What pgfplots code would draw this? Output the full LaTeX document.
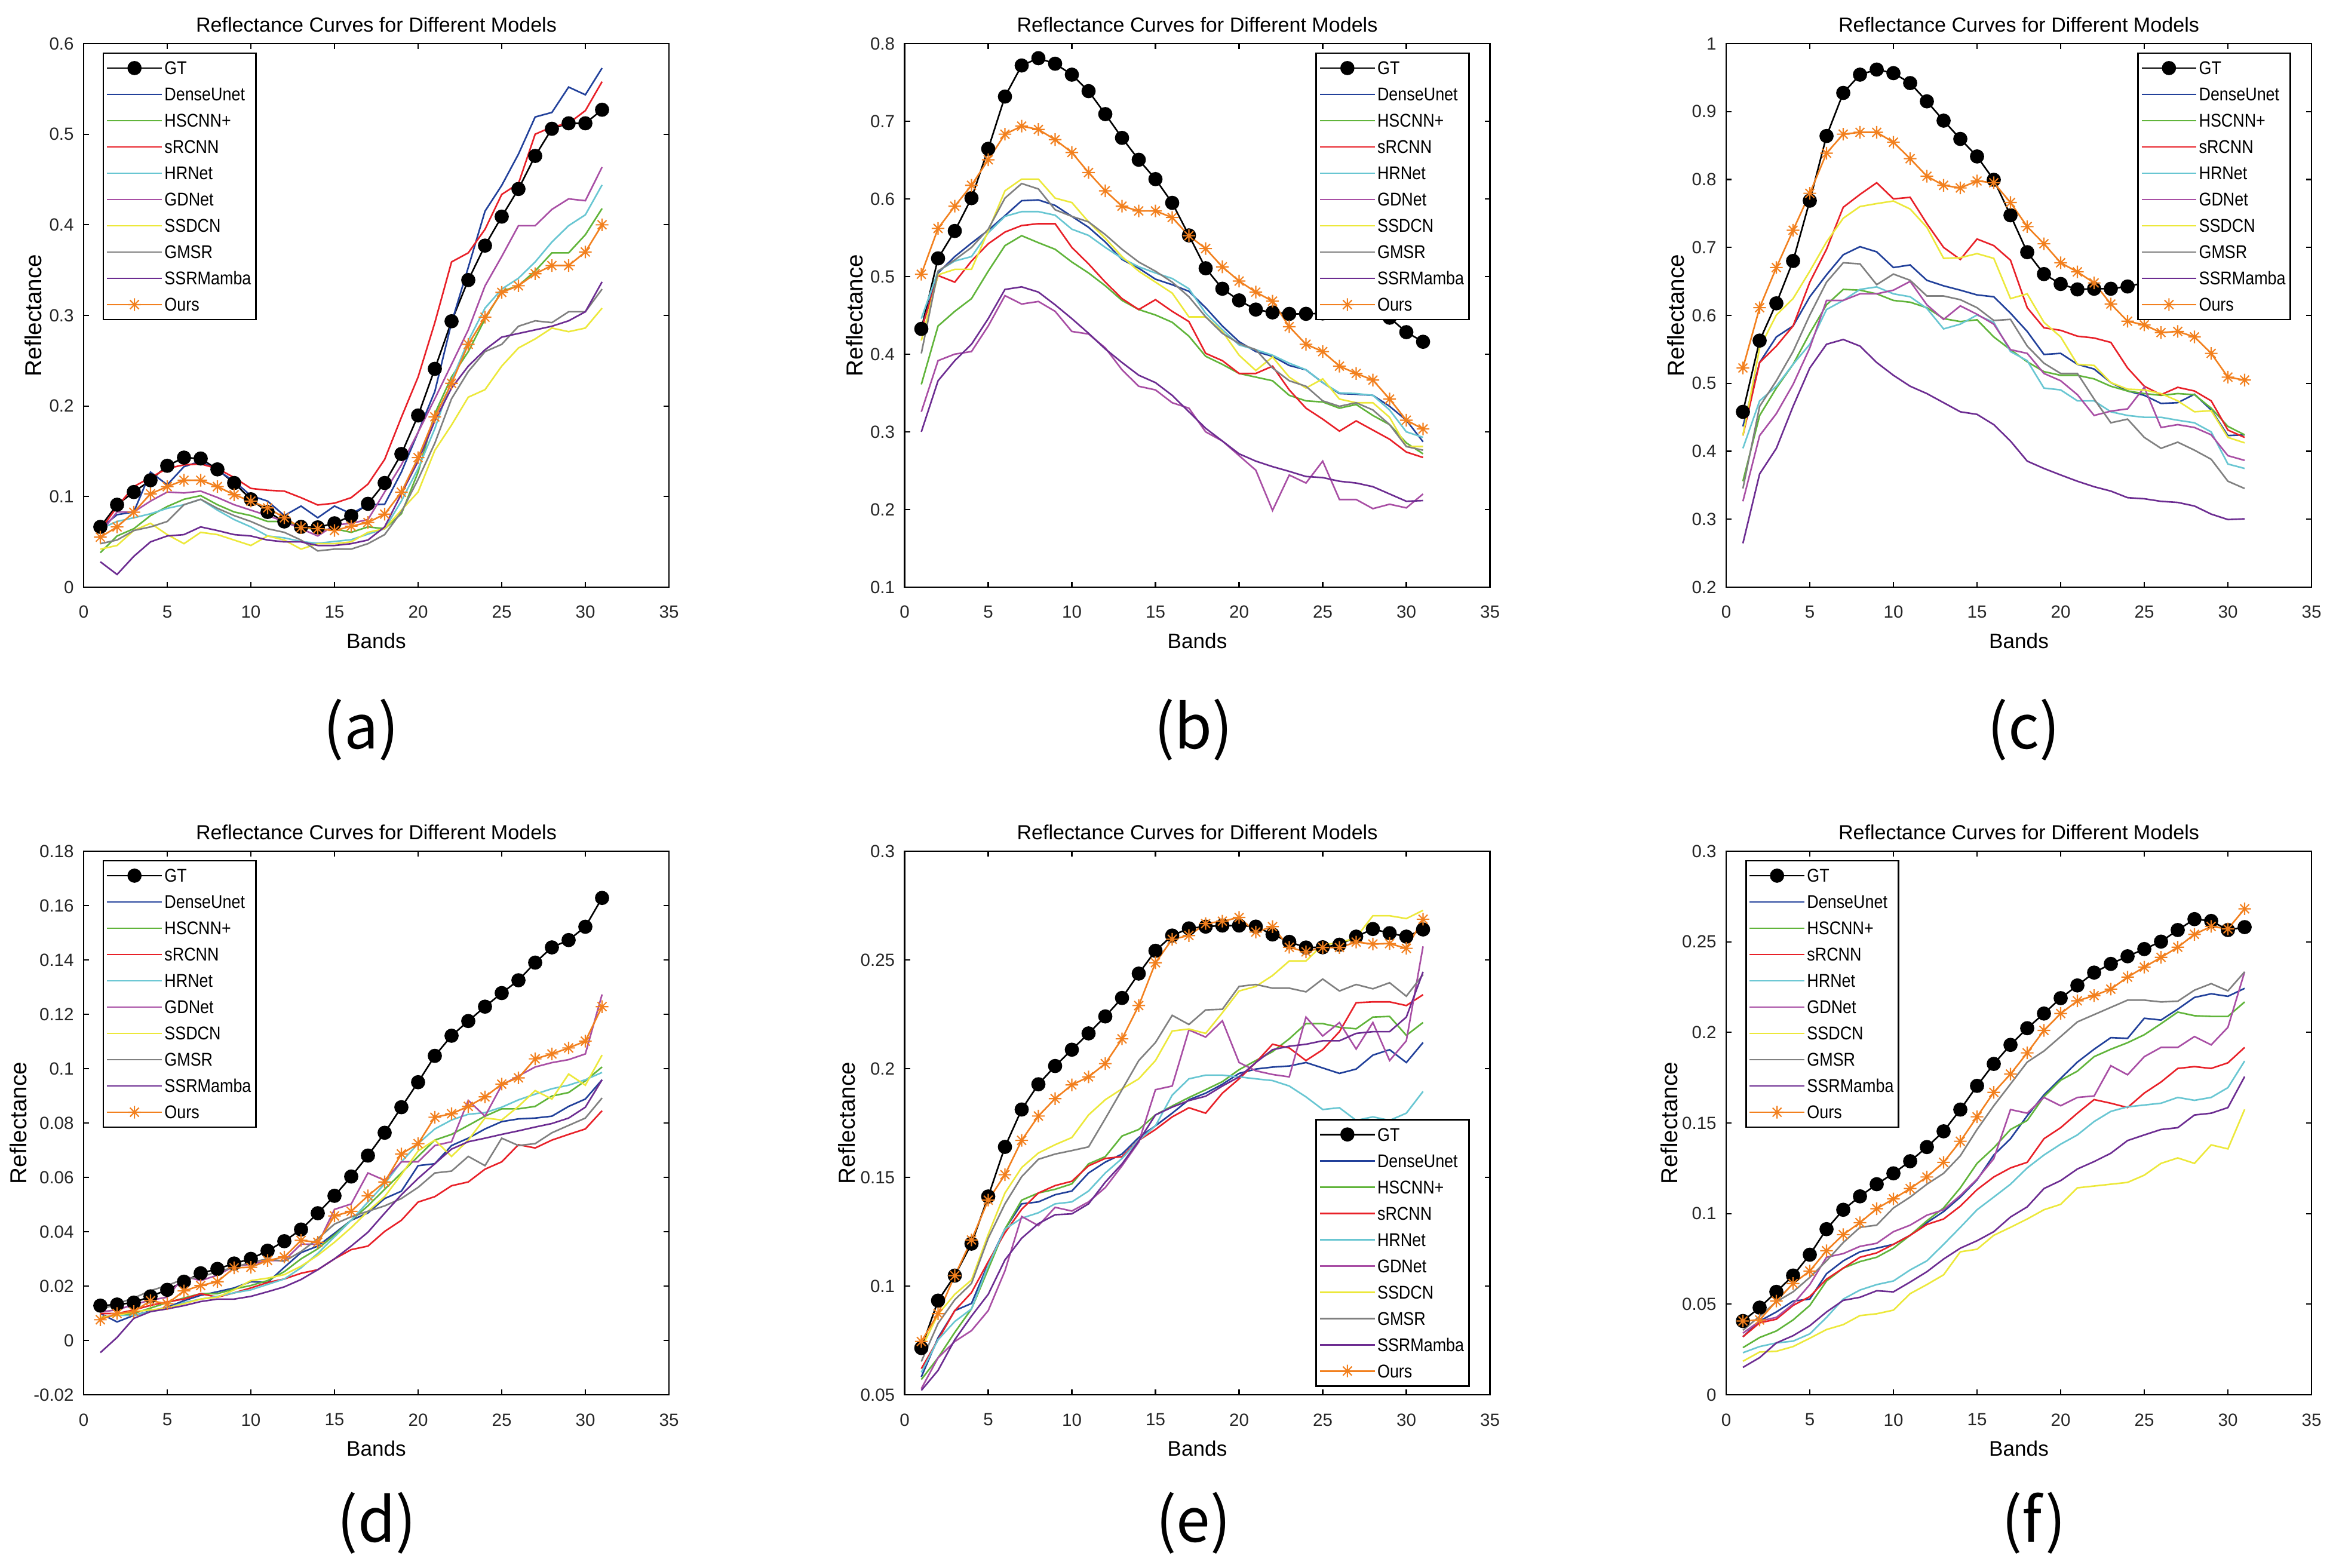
\documentclass[border=0pt]{standalone}
\usepackage{fontspec}
\setmainfont{Liberation Sans}
\newfontfamily\legfont{Liberation Sans}[FakeStretch=0.87]
\newfontfamily\cjk{Noto Sans CJK SC}
\usepackage{pgfplots}
\usepackage{pgfplotstable}
\pgfplotsset{compat=1.18}

\definecolor{cDU}{RGB}{33,64,154}
\definecolor{cHS}{RGB}{96,180,58}
\definecolor{cSR}{RGB}{232,32,40}
\definecolor{cHR}{RGB}{104,198,210}
\definecolor{cGD}{RGB}{168,78,164}
\definecolor{cSS}{RGB}{236,232,58}
\definecolor{cGM}{RGB}{128,128,128}
\definecolor{cSM}{RGB}{108,44,145}
\definecolor{cOU}{RGB}{242,128,30}

\pgfdeclareplotmark{mstar}{%
  \pgfpathmoveto{\pgfqpoint{-\pgfplotmarksize}{0pt}}\pgfpathlineto{\pgfqpoint{\pgfplotmarksize}{0pt}}%
  \pgfpathmoveto{\pgfqpoint{0pt}{-\pgfplotmarksize}}\pgfpathlineto{\pgfqpoint{0pt}{\pgfplotmarksize}}%
  \pgfpathmoveto{\pgfqpoint{-0.707\pgfplotmarksize}{-0.707\pgfplotmarksize}}\pgfpathlineto{\pgfqpoint{0.707\pgfplotmarksize}{0.707\pgfplotmarksize}}%
  \pgfpathmoveto{\pgfqpoint{-0.707\pgfplotmarksize}{0.707\pgfplotmarksize}}\pgfpathlineto{\pgfqpoint{0.707\pgfplotmarksize}{-0.707\pgfplotmarksize}}%
  \pgfusepathqstroke}

\pgfplotstableread{
x GT DU HS SR HR GD SS GM SM OU
1 .0665 .065 .038 .063 .0645 .060 .042 .048 .028 .0552
2 .091 .080 .0565 .0887 .0725 .083 .046 .052 .014 .0665
3 .105 .083 .0645 .111 .0766 .083 .0625 .0625 .034 .0827
4 .118 .127 .079 .121 .081 .095 .0705 .0665 .050 .103
5 .134 .113 .089 .131 .087 .105 .058 .0725 .0565 .111
6 .143 .133 .097 .135 .091 .104 .048 .091 .058 .118
7 .142 .139 .101 .136 .097 .106 .0605 .097 .0665 .118
8 .130 .129 .091 .131 .085 .099 .058 .087 .0625 .111
9 .115 .117 .083 .121 .0746 .091 .052 .079 .058 .102
10 .097 .101 .079 .109 .0665 .085 .046 .0725 .0565 .095
11 .083 .095 .0725 .107 .0565 .079 .0565 .0645 .052 .0875
12 .0725 .079 .0725 .106 .0544 .0725 .052 .0605 .050 .0766
13 .0665 .0895 .0665 .0988 .0504 .0645 .042 .052 .050 .0657
14 .066 .0766 .063 .0907 .0484 .0565 .048 .040 .046 .0645
15 .0705 .0895 .0645 .0927 .0504 .0685 .048 .042 .046 .0625
16 .0786 .081 .0605 .0988 .0524 .0705 .050 .042 .048 .0673
17 .092 .091 .0665 .1137 .0585 .0746 .0605 .048 .052 .0714
18 .115 .0915 .0645 .141 .0645 .105 .0645 .058 .0665 .0806
19 .147 .127 .081 .1875 .095 .135 .085 .083 .103 .1048
20 .1895 .171 .127 .232 .131 .171 .105 .119 .139 .143
21 .241 .216 .1915 .292 .175 .208 .151 .159 .1835 .188
22 .2935 .292 .232 .359 .228 .246 .179 .208 .2198 .225
23 .339 .353 .26 .369 .272 .284 .2097 .238 .244 .268
24 .377 .415 .296 .395 .308 .3325 .218 .26 .262 .298
25 .409 .4435 .3266 .4335 .329 .365 .244 .268 .276 .3254
26 .4395 .478 .3327 .4455 .341 .399 .264 .288 .280 .3327
27 .476 .519 .349 .500 .359 .399 .274 .294 .284 .346
28 .506 .524 .369 .508 .381 .417 .286 .292 .288 .355
29 .512 .552 .369 .512 .399 .4286 .282 .304 .294 .355
30 .512 .5435 .389 .526 .411 .4266 .286 .304 .304 .370
31 .527 .573 .418 .558 .444 .4637 .308 .329 .337 .400
}\dA

\pgfplotstableread{
x GT DU HS SR HR GD SS GM SM OU
1 .4326 .4326 .3611 .4316 .4458 .3258 .4175 .401 .300 .503
2 .5234 .5046 .4363 .5013 .507 .3917 .5022 .507 .3658 .562
3 .5587 .5257 .4552 .4928 .520 .4001 .5093 .5214 .3917 .5906
4 .601 .5431 .4716 .520 .5257 .4034 .5093 .5375 .4128 .6175
5 .6645 .5596 .5069 .5422 .5563 .4363 .5587 .561 .4458 .6504
6 .7318 .5784 .5398 .5573 .5775 .4754 .6104 .601 .4834 .6833
7 .7718 .5977 .5526 .5657 .5836 .4646 .6255 .6198 .4867 .6937
8 .7812 .5987 .5436 .5681 .5836 .4679 .6255 .6128 .480 .6894
9 .7741 .5916 .5351 .5681 .579 .4552 .601 .586 .4636 .6763
10 .760 .5775 .5187 .5375 .561 .4293 .5953 .5775 .4458 .6598
11 .7388 .5634 .5046 .5163 .553 .426 .5704 .5704 .4269 .6339
12 .7092 .5445 .4881 .4928 .5375 .4081 .5493 .554 .4067 .6104
13 .6786 .522 .4693 .4716 .5234 .3799 .5257 .5351 .3893 .5906
14 .6504 .5107 .4575 .4575 .5126 .3587 .5069 .5187 .3729 .5845
15 .6255 .4966 .4505 .4702 .5046 .354 .4928 .5069 .3634 .5845
16 .5949 .4895 .4411 .4552 .4975 .3375 .4787 .4928 .347 .576
17 .553 .481 .4232 .442 .4843 .3305 .4481 .474 .3258 .5526
18 .5107 .4599 .3973 .4011 .4528 .300 .4481 .4481 .3046 .536
19 .4843 .4363 .3869 .3917 .4316 .2882 .4293 .4269 .2882 .5125
20 .4693 .4161 .3752 .3752 .4119 .2694 .3987 .4138 .2717 .4942
21 .4575 .4034 .3705 .3752 .4058 .2506 .379 .4058 .2623 .480
22 .4538 .3973 .3658 .3846 .3987 .1988 .3964 .3822 .2552 .4683
23 .4519 .3855 .347 .354 .3884 .2444 .3705 .3658 .2491 .4354
24 .452 .3799 .3399 .3305 .380 .2341 .3564 .3587 .2425 .4128
25 .4525 .3634 .3385 .3164 .3634 .2623 .3682 .3399 .2411 .4034
26 .453 .3493 .3305 .3009 .3502 .2129 .3422 .3329 .2364 .3846
27 .454 .3484 .3352 .3141 .3493 .2129 .3375 .3375 .2341 .3752
28 .453 .347 .3211 .3023 .347 .2011 .3375 .3282 .2294 .3667
29 .447 .3329 .3093 .2905 .3282 .2068 .3187 .3093 .220 .3423
30 .4284 .315 .2858 .274 .300 .2021 .2811 .2811 .2106 .315
31 .416 .2872 .2717 .267 .2929 .220 .2811 .2764 .2115 .3037
}\dB

\pgfplotstableread{
x GT DU HS SR HR GD SS GM SM OU
1 .458 .4366 .3559 .4231 .4043 .3263 .4231 .3452 .2645 .5226
2 .5629 .5306 .4527 .5306 .4742 .4231 .5522 .4661 .3667 .6113
3 .6177 .5683 .493 .5548 .4957 .4554 .6005 .5038 .4043 .6704
4 .6801 .5844 .528 .5844 .528 .4984 .6247 .5468 .4661 .7253
5 .7688 .6274 .5737 .6489 .5575 .5522 .6651 .6005 .5226 .7796
6 .864 .6597 .6156 .6973 .6086 .622 .7081 .6489 .5575 .8387
7 .9274 .6892 .6382 .7591 .622 .622 .743 .6774 .5645 .8667
8 .9543 .7011 .6371 .778 .6382 .6317 .7602 .6758 .5548 .8694
9 .9618 .6935 .6317 .7952 .6419 .6317 .7645 .6452 .5306 .8694
10 .9565 .6704 .622 .7715 .6317 .6371 .7683 .6608 .5118 .8548
11 .9419 .6742 .6194 .7737 .6274 .650 .7565 .6516 .4957 .8306
12 .915 .6516 .6113 .735 .6102 .6156 .7296 .6285 .4849 .8048
13 .8866 .6435 .5952 .700 .5801 .5941 .6839 .6285 .4715 .7914
14 .8597 .6371 .5909 .6823 .5871 .614 .6849 .6231 .4581 .7876
15 .8339 .6301 .5935 .7124 .6005 .6016 .6909 .6113 .4543 .7978
16 .7995 .6274 .5683 .7027 .5898 .5871 .6839 .5925 .4392 .7952
17 .7473 .6032 .5495 .6812 .5468 .5495 .6247 .5941 .415 .7661
18 .693 .5763 .5317 .6113 .5333 .5441 .6317 .5548 .3855 .7306
19 .6608 .5425 .5172 .5817 .493 .5145 .5898 .5296 .3747 .7054
20 .6462 .5441 .5118 .578 .4903 .5038 .5683 .5145 .3651 .6774
21 .6382 .528 .5118 .5694 .4742 .4833 .528 .5145 .3559 .664
22 .6392 .521 .5065 .5667 .4742 .4527 .5263 .4769 .3478 .6478
23 .6392 .5011 .4957 .5602 .4581 .4591 .5011 .4419 .3414 .6167
24 .6425 .4887 .4887 .5226 .4527 .4624 .4914 .4473 .3317 .5914
25 .648 .4823 .4849 .4957 .450 .4941 .4903 .4204 .3301 .586
26 .652 .4704 .4823 .4833 .450 .435 .4849 .4043 .3263 .5747
27 .655 .4715 .4849 .4941 .4457 .4392 .4742 .4134 .3247 .5763
28 .655 .4839 .4833 .4887 .4419 .435 .4581 .4016 .3194 .5683
29 .652 .4608 .4634 .4742 .4285 .4242 .4597 .3882 .3075 .5441
30 .648 .4231 .4366 .4312 .3812 .3935 .4204 .3559 .2995 .5091
31 .645 .4242 .4242 .4204 .3747 .3866 .4124 .3452 .3005 .5048
}\dC

\pgfplotstableread{
x GT DU HS SR HR GD SS GM SM OU
1 .0128 .0099 .0085 .0099 .0085 .0105 .0085 .0112 -.0045 .0076
2 .0132 .0068 .0092 .0099 .0092 .0112 .0092 .0135 .0011 .0099
3 .0139 .0092 .0099 .0112 .0092 .0132 .0106 .0156 .0081 .0106
4 .0162 .0108 .0119 .0129 .0106 .0148 .0112 .0183 .0106 .0146
5 .0186 .0122 .0139 .0142 .0119 .0159 .0119 .0202 .0116 .0135
6 .0216 .0146 .0156 .0152 .0139 .0236 .0135 .0226 .0128 .0182
7 .0247 .0166 .0172 .0172 .0152 .022 .0152 .0233 .0143 .0202
8 .0263 .0179 .0172 .0159 .0162 .024 .0159 .0253 .0152 .0216
9 .0283 .0193 .0189 .0175 .0175 .0273 .0186 .0269 .0152 .0267
10 .030 .0216 .0202 .0193 .0186 .028 .022 .0287 .0162 .0269
11 .033 .0213 .022 .0213 .0206 .0294 .0229 .030 .0179 .0294
12 .0365 .0269 .0253 .0226 .0226 .0294 .0242 .0291 .0197 .0307
13 .0408 .0323 .030 .0247 .0267 .0354 .0273 .0327 .0224 .0368
14 .0468 .0347 .0337 .026 .032 .0354 .0313 .0374 .026 .0361
15 .0532 .0394 .0388 .030 .0381 .0482 .0361 .0428 .030 .0458
16 .0603 .0442 .0442 .0334 .0442 .0502 .0415 .0455 .0347 .0475
17 .068 .0469 .0495 .0347 .0509 .0616 .0475 .0475 .0398 .0532
18 .0764 .0522 .0556 .0401 .0576 .0589 .0529 .0495 .0468 .0583
19 .0858 .0549 .0616 .0442 .0657 .0657 .061 .0522 .0536 .0686
20 .095 .0643 .0677 .0509 .0724 .0657 .0697 .0563 .0596 .0724
21 .1047 .065 .0737 .0529 .0778 .0717 .0737 .0616 .065 .0821
22 .1121 .0717 .0758 .0569 .0811 .0731 .0677 .0623 .0704 .0834
23 .1175 .0744 .0791 .0583 .0832 .0883 .0737 .0677 .0731 .0861
24 .1228 .0778 .0825 .063 .0838 .0825 .0818 .0643 .0744 .0896
25 .1278 .0805 .0852 .0657 .0858 .0939 .0811 .0744 .0758 .0943
26 .1325 .0815 .0852 .072 .0885 .0973 .0861 .0717 .0771 .0966
27 .139 .0818 .0861 .0708 .0906 .1006 .0919 .0724 .0785 .1036
28 .1446 .0825 .0899 .0737 .0926 .1022 .0888 .0764 .0798 .1054
29 .1473 .0861 .0912 .0758 .0939 .1033 .098 .0791 .0818 .1076
30 .1522 .0888 .0955 .0778 .0959 .1054 .0939 .0818 .0858 .1101
31 .1628 .0959 .1006 .0845 .0986 .1273 .105 .0892 .0959 .1228
}\dD

\pgfplotstableread{
x GT DU HS SR HR GD SS GM SM OU
1 .0715 .0582 .057 .062 .0603 .0528 .0712 .0653 .052 .0745
2 .0933 .0762 .067 .0753 .0753 .067 .087 .0828 .0612 .0873
3 .1048 .0887 .0787 .0887 .0837 .0745 .0962 .0937 .0753 .1048
4 .1195 .092 .0895 .097 .0895 .0795 .1028 .1012 .0862 .1212
5 .1412 .1103 .1078 .1112 .1095 .0887 .1237 .122 .0962 .1395
6 .164 .1262 .1262 .1245 .1262 .107 .1428 .1378 .112 .1512
7 .1812 .1378 .1395 .1353 .1312 .132 .1545 .1503 .122 .167
8 .1928 .1387 .1428 .1428 .1337 .1278 .1612 .1583 .1287 .1782
9 .2012 .142 .1445 .1462 .1378 .1362 .165 .1607 .1328 .1862
10 .2087 .1437 .147 .1482 .1387 .1345 .1683 .1623 .1332 .1925
11 .2162 .152 .1562 .1553 .1437 .1387 .1787 .164 .1378 .1962
12 .224 .157 .1595 .1587 .152 .1453 .1857 .177 .1478 .2023
13 .2325 .1607 .169 .1595 .1587 .1553 .1907 .1903 .1562 .2137
14 .2437 .1683 .172 .167 .167 .1662 .1953 .2037 .1667 .229
15 .2542 .1737 .1787 .172 .1737 .1903 .2037 .212 .1787 .2487
16 .2612 .1795 .1828 .1778 .1878 .192 .2173 .2245 .1823 .2595
17 .2645 .1857 .1867 .182 .1953 .2178 .2182 .2203 .1853 .2612
18 .2653 .1887 .1903 .1795 .197 .2145 .2162 .227 .1873 .2667
19 .2658 .1928 .194 .1887 .197 .222 .2257 .2273 .192 .2678
20 .2658 .1978 .1995 .1953 .1962 .2028 .2357 .2378 .1962 .2695
21 .2653 .1998 .2037 .2028 .1953 .199 .2378 .2387 .2028 .2628
22 .2617 .2007 .2078 .2112 .1945 .1973 .2428 .237 .2087 .2653
23 .2583 .2012 .2137 .2095 .192 .1962 .2495 .237 .2103 .2558
24 .2557 .2028 .2207 .2037 .187 .2237 .2495 .2353 .2112 .2537
25 .2558 .2003 .2207 .2087 .1812 .215 .257 .2412 .2128 .2557
26 .257 .1978 .219 .217 .182 .2212 .2578 .2357 .2128 .2557
27 .2607 .1998 .2183 .2303 .1762 .209 .2603 .2387 .2162 .2582
28 .2642 .2062 .2237 .2307 .1778 .2212 .2703 .2367 .217 .2573
29 .2623 .2087 .224 .2307 .1762 .2037 .2703 .2395 .217 .2575
30 .2607 .2028 .2153 .229 .1795 .2128 .269 .2333 .2237 .2553
31 .264 .212 .2212 .234 .1895 .2562 .2728 .2433 .2445 .2687
}\dE

\pgfplotstableread{
x GT DU HS SR HR GD SS GM SM OU
1 .0407 .032 .026 .032 .0232 .034 .0185 .0356 .0151 .0407
2 .0481 .0407 .0316 .0397 .0266 .0407 .0236 .0433 .0205 .0413
3 .0568 .0457 .0352 .0417 .0286 .0427 .024 .0513 .0286 .0517
4 .0658 .0517 .0413 .0493 .0296 .0501 .0266 .0568 .0326 .0614
5 .0773 .0528 .0493 .0542 .0336 .0608 .0312 .0648 .0381 .0683
6 .0914 .0668 .0628 .0638 .0427 .0759 .036 .0739 .0457 .0795
7 .1021 .0739 .0699 .0699 .0528 .0779 .0387 .084 .0521 .0884
8 .1095 .0789 .0735 .0759 .0578 .0819 .0437 .0924 .0538 .095
9 .1162 .0809 .0759 .0783 .0608 .0836 .0447 .0936 .0574 .1027
10 .1222 .083 .0809 .083 .0628 .09 .0467 .1031 .0568 .1081
11 .1289 .088 .088 .088 .0689 .0936 .0558 .1091 .0622 .1138
12 .1367 .095 .096 .094 .0739 .0991 .0608 .1162 .0679 .1202
13 .1454 .1011 .1031 .097 .083 .1021 .0662 .1222 .0749 .1283
14 .1574 .1091 .1142 .1041 .0924 .11 .0789 .1319 .0809 .1399
15 .1705 .1186 .1277 .1132 .1021 .119 .0803 .1464 .085 .1534
16 .1826 .1323 .1363 .1202 .1091 .1303 .088 .1595 .09 .1669
17 .1931 .1413 .1464 .1252 .1162 .1574 .0924 .1715 .0981 .177
18 .2023 .154 .1514 .1283 .1252 .1554 .097 .1836 .1037 .1887
19 .2104 .1655 .1645 .1413 .1323 .1641 .1021 .1897 .1138 .2011
20 .2189 .1746 .1736 .1474 .1383 .1595 .1051 .1977 .1182 .2104
21 .2259 .1836 .1786 .1554 .1434 .1641 .1142 .2058 .1246 .2174
22 .233 .1907 .1866 .1629 .1508 .1649 .1152 .2098 .1287 .2203
23 .2378 .1971 .1907 .1609 .1564 .1816 .1162 .2138 .1333 .2239
24 .242 .1967 .1943 .1585 .1589 .1766 .1172 .2178 .1403 .2305
25 .246 .2078 .1987 .1665 .1599 .1866 .1212 .2178 .1434 .236
26 .2501 .2068 .2048 .1726 .1609 .1917 .1277 .2168 .1464 .2414
27 .2565 .2128 .2112 .1801 .1641 .1917 .1307 .2172 .1474 .247
28 .2625 .2193 .2092 .1811 .1625 .1977 .1277 .2233 .1544 .2541
29 .2615 .2213 .2088 .1801 .1641 .1931 .1379 .2269 .1554 .2585
30 .2565 .2199 .2088 .1832 .1695 .2028 .1357 .2229 .1585 .2571
31 .2581 .2243 .2168 .1917 .1842 .2334 .1575 .2334 .1756 .2682
}\dF

\pgfplotsset{
  rc/.style={
    scale only axis, width=98mm, height=91mm,
    xmin=0, xmax=35, xtick={0,5,10,15,20,25,30,35},
    axis line style={line width=0.8pt, black},
    major tick length=0.9mm,
    tick style={line width=0.6pt, black},
    tick align=inside,
    ticklabel style={font=\fontsize{8.4}{10}\selectfont, text=black!85},
    xticklabel style={yshift=-1.9mm},
    yticklabel style={xshift=-0.4mm},
    /pgf/number format/assume math mode=true,
    scaled y ticks=false,
    yticklabel style={/pgf/number format/fixed, /pgf/number format/precision=2},
    title={Reflectance Curves for Different Models},
    every axis title/.style={at={(axis description cs:0.5,1.0352)}, anchor=center, font=\fontsize{9.7}{11}\selectfont},
    xlabel={Bands}, ylabel={Reflectance},
    every axis x label/.style={at={(axis description cs:0.5,-0.0989)}, anchor=center, font=\fontsize{10}{12}\selectfont},
    every axis y label/.style={at={(axis description cs:-0.0857,0.5)}, rotate=90, anchor=center, font=\fontsize{11}{13}\selectfont},
    legend cell align=left,
    legend style={font=\legfont\fontsize{8.8}{10}\selectfont, draw=black, line width=0.8pt,
      inner xsep=0.5mm, inner ysep=0.3mm,
      nodes={inner xsep=0.3mm, inner ysep=0pt, text height=3.3mm, text depth=1.1mm}},
    legend image code/.code={\draw[mark repeat=2,mark phase=2,#1] plot coordinates {(0mm,0mm) (4.58mm,0mm) (9.17mm,0mm)};},
  },
  ylab/.style={every axis y label/.append style={at={(axis description cs:#1,0.5)}}},
  legTL/.style={legend style={at={(axis description cs:0.0323,0.984)}, anchor=north west}},
  legTR/.style={legend style={at={(axis description cs:0.9653,0.984)}, anchor=north east}},
  legBR/.style={legend style={at={(axis description cs:0.9653,0.0147)}, anchor=south east}},
  sGT/.style={black, line width=0.75pt, mark=*, mark size=3pt, mark options={solid, fill=black}},
  sDU/.style={cDU, line width=0.75pt, no markers},
  sHS/.style={cHS, line width=0.75pt, no markers},
  sSR/.style={cSR, line width=0.75pt, no markers},
  sHR/.style={cHR, line width=0.75pt, no markers},
  sGD/.style={cGD, line width=0.75pt, no markers},
  sSS/.style={cSS, line width=0.75pt, no markers},
  sGM/.style={cGM, line width=0.75pt, no markers},
  sSM/.style={cSM, line width=0.75pt, no markers},
  sOU/.style={cOU, line width=0.75pt, mark=mstar, mark size=3pt, mark options={solid, line width=0.6pt}},
}

\newcommand{\allseries}[1]{%
  \addplot[sGT] table[x=x,y=GT]{#1};
  \addplot[sDU] table[x=x,y=DU]{#1};
  \addplot[sHS] table[x=x,y=HS]{#1};
  \addplot[sSR] table[x=x,y=SR]{#1};
  \addplot[sHR] table[x=x,y=HR]{#1};
  \addplot[sGD] table[x=x,y=GD]{#1};
  \addplot[sSS] table[x=x,y=SS]{#1};
  \addplot[sGM] table[x=x,y=GM]{#1};
  \addplot[sSM] table[x=x,y=SM]{#1};
  \addplot[sOU] table[x=x,y=OU]{#1};
  \legend{GT,DenseUnet,HSCNN+,sRCNN,HRNet,GDNet,SSDCN,GMSR,SSRMamba,Ours}
}

\begin{document}
\begin{tikzpicture}
\path[use as bounding box] (0,0) rectangle (391.1mm,262.5mm);

\begin{axis}[rc, legTL, at={(14.0mm,164.2mm)}, anchor=south west,
  ymin=0, ymax=0.6, ytick={0,0.1,0.2,0.3,0.4,0.5,0.6}]
\allseries{\dA}
\end{axis}

\begin{axis}[rc, legTR, at={(151.45mm,164.2mm)}, anchor=south west,
  ymin=0.1, ymax=0.8, ytick={0.1,0.2,0.3,0.4,0.5,0.6,0.7,0.8}]
\allseries{\dB}
\end{axis}

\begin{axis}[rc, legTR, at={(289.0mm,164.2mm)}, anchor=south west,
  ymin=0.2, ymax=1, ytick={0.2,0.3,0.4,0.5,0.6,0.7,0.8,0.9,1}]
\allseries{\dC}
\end{axis}

\begin{axis}[rc, legTL, ylab=-0.112, at={(14.0mm,29.0mm)}, anchor=south west,
  ymin=-0.02, ymax=0.18, ytick={-0.02,0,0.02,0.04,0.06,0.08,0.1,0.12,0.14,0.16,0.18}]
\allseries{\dD}
\end{axis}

\begin{axis}[rc, legBR, ylab=-0.099, at={(151.45mm,29.0mm)}, anchor=south west,
  ymin=0.05, ymax=0.3, ytick={0.05,0.1,0.15,0.2,0.25,0.3}]
\allseries{\dE}
\end{axis}

\begin{axis}[rc, legTL, ylab=-0.097, at={(289.0mm,29.0mm)}, anchor=south west,
  ymin=0, ymax=0.3, ytick={0,0.05,0.1,0.15,0.2,0.25,0.3}]
\allseries{\dF}
\end{axis}

\node[font=\cjk\fontsize{29}{31}\selectfont] at (60.5mm,140.3mm) {(a)};
\node[font=\cjk\fontsize{29}{31}\selectfont] at (199.8mm,140.3mm) {(b)};
\node[font=\cjk\fontsize{29}{31}\selectfont] at (338.8mm,140.3mm) {(c)};
\node[font=\cjk\fontsize{29}{31}\selectfont] at (63.1mm,7.5mm) {(d)};
\node[font=\cjk\fontsize{29}{31}\selectfont] at (199.8mm,7.5mm) {(e)};
\node[font=\cjk\fontsize{29}{31}\selectfont] at (340.5mm,7.5mm) {(f)};
\end{tikzpicture}
\end{document}
